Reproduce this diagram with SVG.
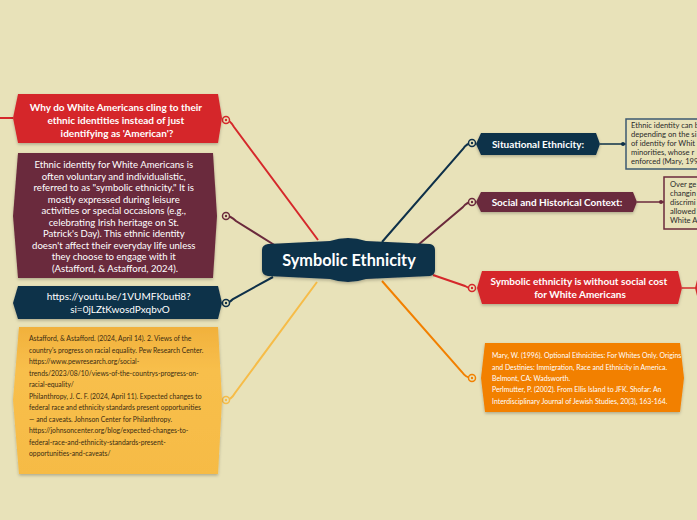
<svg xmlns="http://www.w3.org/2000/svg" width="697" height="520" viewBox="0 0 697 520">
<style>
text{font-family:Lato,"Open Sans","DejaVu Sans",sans-serif}
.hb{font-weight:bold;fill:#fff;text-anchor:middle}
.wt{fill:#fff;text-anchor:middle}
.ref{font-size:6.8px}
.box{font-size:7.6px;fill:#2a2a2a}
.c{fill:none;stroke-width:2}
.dot{stroke-width:1.5}
</style>
<defs>
<filter id="sh" x="-10%" y="-20%" width="120%" height="150%">
<feDropShadow dx="0" dy="1.5" stdDeviation="1.5" flood-color="#000" flood-opacity="0.25"/>
</filter>
<linearGradient id="yg" x1="0" y1="0" x2="0" y2="1">
<stop offset="0" stop-color="#f1b13c"/>
<stop offset="0.3" stop-color="#f8bf4c"/>
<stop offset="1" stop-color="#f6bb45"/>
</linearGradient>
</defs>
<rect width="697" height="520" fill="#e8e2b9"/>

<g id="connectors">
<path class="c" stroke="#d5282b" d="M318,240 L234,127 Q230,120 226,120"/>
<path class="c" stroke="#6b2a3c" d="M276,246 L236,221 Q231,216 226,216"/>
<path class="c" stroke="#0e3049" d="M273,277 L233,299 Q229,303 226,303"/>
<path class="c" stroke="#f6bc48" d="M317,282 L235,393 Q231,400 226,400"/>
<path class="c" stroke="#0e3049" d="M382,242 L463,149 Q467,143 472,143"/>
<path class="c" stroke="#6b2a3c" d="M418,245 L463,207 Q467,202 472,202"/>
<path class="c" stroke="#d5282b" d="M433,275 L465,286 Q468,288 472,288"/>
<path class="c" stroke="#f28000" d="M382,281 L462,372 Q466,378 472,378"/>
<path class="c" stroke="#d5282b" d="M0,118 L13,118"/>
<path fill="none" stroke="#0e3049" stroke-width="1.5" d="M600,144 L626,144"/>
<circle cx="623" cy="144" r="2" fill="#0e3049"/>
<path fill="none" stroke="#6b2a3c" stroke-width="1.5" d="M637,202 L664,202"/>
<circle cx="661" cy="202" r="2" fill="#6b2a3c"/>
<path fill="none" stroke="#d5282b" stroke-width="1.5" d="M682,288 L697,288"/>
<g class="dot" fill="#e8e2b9">
<circle cx="226" cy="120" r="3.5" stroke="#d5282b"/><circle cx="226" cy="120" r="1.2" fill="#d5282b"/>
<circle cx="226" cy="216" r="3.5" stroke="#6b2a3c"/><circle cx="226" cy="216" r="1.2" fill="#6b2a3c"/>
<circle cx="226" cy="303" r="3.5" stroke="#0e3049"/><circle cx="226" cy="303" r="1.2" fill="#0e3049"/>
<circle cx="226" cy="400" r="3.5" stroke="#f6bc48"/><circle cx="226" cy="400" r="1.2" fill="#f6bc48"/>
<circle cx="472" cy="143" r="3.5" stroke="#0e3049"/><circle cx="472" cy="143" r="1.2" fill="#0e3049"/>
<circle cx="472" cy="202" r="3.5" stroke="#6b2a3c"/><circle cx="472" cy="202" r="1.2" fill="#6b2a3c"/>
<circle cx="472" cy="288" r="3.5" stroke="#d5282b"/><circle cx="472" cy="288" r="1.2" fill="#d5282b"/>
<circle cx="472" cy="378" r="3.5" stroke="#f28000"/><circle cx="472" cy="378" r="1.2" fill="#f28000"/>
</g>
</g>

<g id="center">
<path filter="url(#sh)" fill="#0e3049" d="M268,244 L330,241 Q348,235 366,241 L430,244 Q435,245 435,250 L435,270 Q435,275 430,276 L366,279 Q348,285 330,279 L268,276 Q262,275 262,270 L262,250 Q262,245 268,244 Z"/>
<text class="hb" x="349" y="266" font-size="16.3">Symbolic Ethnicity</text>
</g>

<g id="why">
<path filter="url(#sh)" fill="#d5282b" d="M18,94 L218,94 L222,118 L218,143 L18,143 L13,118 Z"/>
<text class="hb" font-size="10">
<tspan x="117" y="111">Why do White Americans cling to their</tspan>
<tspan x="117" y="124">ethnic identities instead of just</tspan>
<tspan x="117" y="137">identifying as 'American'?</tspan>
</text>
</g>

<g id="identity">
<path filter="url(#sh)" fill="#6b2a3c" d="M18,153 L213,153 L217,216 L213,278 L18,278 L13,216 Z"/>
<text class="wt" font-size="9.6">
<tspan x="115" y="168">Ethnic identity for White Americans is</tspan>
<tspan x="115" y="179.5">often voluntary and individualistic,</tspan>
<tspan x="115" y="191">referred to as "symbolic ethnicity." It is</tspan>
<tspan x="115" y="202.5">mostly expressed during leisure</tspan>
<tspan x="115" y="214">activities or special occasions (e.g.,</tspan>
<tspan x="115" y="225.5">celebrating Irish heritage on St.</tspan>
<tspan x="115" y="237">Patrick's Day). This ethnic identity</tspan>
<tspan x="115" y="248.5">doesn't affect their everyday life unless</tspan>
<tspan x="115" y="260">they choose to engage with it</tspan>
<tspan x="115" y="271.5">(Astafford, &amp; Astafford, 2024).</tspan>
</text>
</g>

<g id="url">
<path filter="url(#sh)" fill="#0e3049" d="M18,286 L218,286 L222,303 L218,319 L18,319 L13,303 Z"/>
<text class="wt" font-size="10">
<tspan x="120" y="300">https://youtu.be/1VUMFKbuti8?</tspan>
<tspan x="120" y="313">si=0jLZtKwosdPxqbvO</tspan>
</text>
</g>

<g id="refs-left">
<path filter="url(#sh)" fill="url(#yg)" d="M19,327 L218,327 L222,400 L218,474 L19,474 L13,400 Z"/>
<text class="ref" fill="#3b2c12">
<tspan x="29" y="341">Astafford, &amp; Astafford. (2024, April 14). 2. Views of the</tspan>
<tspan x="29" y="352.5">country's progress on racial equality. Pew Research Center.</tspan>
<tspan x="29" y="364">https://www.pewresearch.org/social-</tspan>
<tspan x="29" y="375.5">trends/2023/08/10/views-of-the-countrys-progress-on-</tspan>
<tspan x="29" y="387">racial-equality/</tspan>
<tspan x="29" y="398.5">Philanthropy, J. C. F. (2024, April 11). Expected changes to</tspan>
<tspan x="29" y="410">federal race and ethnicity standards present opportunities</tspan>
<tspan x="29" y="421.5">— and caveats. Johnson Center for Philanthropy.</tspan>
<tspan x="29" y="433">https://johnsoncenter.org/blog/expected-changes-to-</tspan>
<tspan x="29" y="444.5">federal-race-and-ethnicity-standards-present-</tspan>
<tspan x="29" y="456">opportunities-and-caveats/</tspan>
</text>
</g>

<g id="situational">
<path filter="url(#sh)" fill="#0e3049" d="M481,133 L596,133 L600,144 L596,155 L481,155 L476,144 Z"/>
<text class="hb" x="538" y="147.5" font-size="10">Situational Ethnicity:</text>
</g>
<g id="situational-note">
<rect x="626" y="119" width="80" height="50" fill="#e8e2b9" stroke="#3d5a70" stroke-width="1.5"/>
<text class="box">
<tspan x="631" y="128">Ethnic identity can b</tspan>
<tspan x="631" y="137">depending on the si</tspan>
<tspan x="631" y="146">of identity for Whit</tspan>
<tspan x="631" y="155">minorities, whose r</tspan>
<tspan x="631" y="164">enforced (Mary, 199</tspan>
</text>
</g>

<g id="social">
<path filter="url(#sh)" fill="#6b2a3c" d="M481,192 L633,192 L637,202 L633,212 L481,212 L476,202 Z"/>
<text class="hb" x="557" y="205.5" font-size="10">Social and Historical Context:</text>
</g>
<g id="social-note">
<rect x="664" y="177" width="45" height="52" fill="#e8e2b9" stroke="#6b2a3c" stroke-width="1.5"/>
<text class="box">
<tspan x="670" y="187">Over ge</tspan>
<tspan x="670" y="196">changin</tspan>
<tspan x="670" y="205">discrimi</tspan>
<tspan x="670" y="214">allowed</tspan>
<tspan x="670" y="223">White A</tspan>
</text>
</g>

<g id="nocost">
<path filter="url(#sh)" fill="#d5282b" d="M482,271 L678,271 L682,288 L678,304 L482,304 L477,288 Z"/>
<text class="hb" font-size="10">
<tspan x="580" y="285">Symbolic ethnicity is without social cost</tspan>
<tspan x="580" y="297.5">for White Americans</tspan>
</text>
<path fill="#d5282b" d="M697,280 L695,288 L697,296 Z"/>
</g>

<g id="refs-right">
<path filter="url(#sh)" fill="#f28000" d="M485,343 L680,343 L684,378 L680,412 L485,412 L481,378 Z"/>
<text fill="#fff" font-size="6.9">
<tspan x="492" y="358">Mary, W. (1996). Optional Ethnicities: For Whites Only. Origins</tspan>
<tspan x="492" y="369.5">and Destinies: Immigration, Race and Ethnicity in America.</tspan>
<tspan x="492" y="381">Belmont, CA: Wadsworth.</tspan>
<tspan x="492" y="392">Perlmutter, P. (2002). From Ellis Island to JFK. Shofar: An</tspan>
<tspan x="492" y="403.5">Interdisciplinary Journal of Jewish Studies, 20(3), 163-164.</tspan>
</text>
</g>
</svg>
